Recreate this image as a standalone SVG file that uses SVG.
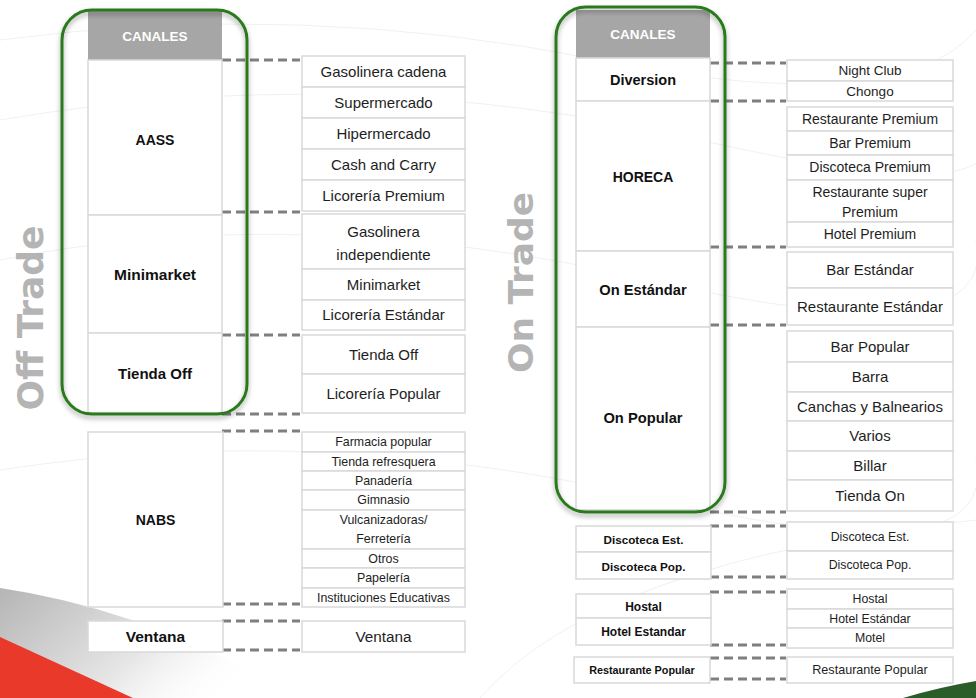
<svg xmlns="http://www.w3.org/2000/svg" width="976" height="698" viewBox="0 0 976 698">
<style>
.cell{fill:#fff;stroke:#d9d9d9;stroke-width:1.5}
.hdr{fill:#a6a6a6}
.t{font-family:"Liberation Sans",Arial,sans-serif;fill:#1e1e1e;text-anchor:middle}
.b{font-weight:bold;fill:#111}
.w{fill:#fff;font-weight:bold}
.s15{font-size:15px}
.s14{font-size:14px}
.s13{font-size:13.5px}
.s12{font-size:12.4px}
.dash{stroke:#7f7f7f;stroke-width:3;stroke-dasharray:9 5;fill:none}
.frame{fill:none;stroke:#2a7a1f;stroke-width:3;filter:url(#sh)}
.vt{font-family:"DejaVu Sans",sans-serif;font-weight:bold;fill:#b4b4b4;text-anchor:middle}
.bg{fill:none;stroke:#f1f1f1;stroke-width:1}
</style>
<defs>
<filter id="sh" x="-20%" y="-10%" width="140%" height="125%">
<feDropShadow dx="0" dy="3" stdDeviation="2.5" flood-color="#000" flood-opacity="0.35"/>
</filter>
<linearGradient id="gshade" x1="0" y1="0" x2="1" y2="0.4">
<stop offset="0" stop-color="#b5b5b5"/>
<stop offset="0.6" stop-color="#e6e6e6"/>
<stop offset="1" stop-color="#ffffff" stop-opacity="0"/>
</linearGradient>
</defs>
<rect width="976" height="698" fill="#fff"/>
<g id="background">
<path class="bg" d="M0,40 Q300,0 600,60 T976,30"/>
<path class="bg" d="M0,120 Q350,60 700,140 T976,110"/>
<path class="bg" d="M0,260 Q300,200 650,280 T976,240"/>
<path class="bg" d="M0,470 Q320,420 660,500 T976,460"/>
<path class="bg" d="M480,698 Q600,560 976,520"/>
<path d="M0,588 L0,640 L133,698 L300,698 Q150,610 0,588 Z" fill="url(#gshade)"/>
<path d="M0,637 L133,698 L0,698 Z" fill="#e8392a"/>
<path d="M903,698 Q940,687 976,681 L976,698 Z" fill="#2b5d2a"/>
</g>
<text class="vt" font-size="35" textLength="185" lengthAdjust="spacingAndGlyphs" transform="translate(43,318) rotate(-90)">Off Trade</text>
<text class="vt" font-size="34" textLength="181" lengthAdjust="spacingAndGlyphs" transform="translate(533,282.5) rotate(-90)">On Trade</text>

<g id="connectors">
<line class="dash" x1="222" y1="60" x2="300" y2="60"/>
<line class="dash" x1="222" y1="212" x2="300" y2="212"/>
<line class="dash" x1="222" y1="335" x2="300" y2="335"/>
<line class="dash" x1="222" y1="414" x2="300" y2="414"/>
<line class="dash" x1="222" y1="431" x2="300" y2="431"/>
<line class="dash" x1="222" y1="604" x2="300" y2="604"/>
<line class="dash" x1="222" y1="621" x2="300" y2="621"/>
<line class="dash" x1="222" y1="650" x2="300" y2="650"/>
<line class="dash" x1="710" y1="63" x2="786" y2="63"/>
<line class="dash" x1="710" y1="101" x2="786" y2="101"/>
<line class="dash" x1="710" y1="247" x2="786" y2="247"/>
<line class="dash" x1="710" y1="325" x2="786" y2="325"/>
<line class="dash" x1="710" y1="512" x2="786" y2="512"/>
<line class="dash" x1="710" y1="526" x2="786" y2="526"/>
<line class="dash" x1="710" y1="577" x2="786" y2="577"/>
<line class="dash" x1="710" y1="592" x2="786" y2="592"/>
<line class="dash" x1="710" y1="645" x2="786" y2="645"/>
<line class="dash" x1="710" y1="658" x2="786" y2="658"/>
<line class="dash" x1="710" y1="679" x2="786" y2="679"/>
</g>

<!-- OFF TRADE -->
<g id="off-canales">
<rect class="hdr" x="88" y="10" width="134" height="50"/>
<text class="t w" font-size="13.5" x="155" y="41">CANALES</text>
</g>
<g id="off-aass">
<rect class="cell" x="88" y="60" width="134" height="155"/>
<text class="t b s14" x="155" y="145">AASS</text>
</g>
<g id="off-minimarket">
<rect class="cell" x="88" y="215" width="134" height="118"/>
<text class="t b" font-size="15.5" x="155" y="280">Minimarket</text>
</g>
<g id="off-tienda">
<rect class="cell" x="88" y="333" width="134" height="80"/>
<text class="t b s15" x="155" y="378.5">Tienda Off</text>
</g>
<g id="off-aass-list">
<rect class="cell" x="302" y="56" width="163" height="31"/><text class="t s15" x="383.5" y="76.8">Gasolinera cadena</text>
<rect class="cell" x="302" y="87" width="163" height="31"/><text class="t s15" x="383.5" y="107.8">Supermercado</text>
<rect class="cell" x="302" y="118" width="163" height="31"/><text class="t s15" x="383.5" y="138.8">Hipermercado</text>
<rect class="cell" x="302" y="149" width="163" height="31"/><text class="t s15" x="383.5" y="169.8">Cash and Carry</text>
<rect class="cell" x="302" y="180" width="163" height="31"/><text class="t s15" x="383.5" y="200.8">Licorería Premium</text>
</g>
<g id="off-minimarket-list">
<rect class="cell" x="302" y="214" width="163" height="55"/><text class="t s15" x="383.5" y="237.3">Gasolinera</text><text class="t s15" x="383.5" y="259.6">independiente</text>
<rect class="cell" x="302" y="269" width="163" height="31"/><text class="t s15" x="383.5" y="289.8">Minimarket</text>
<rect class="cell" x="302" y="300" width="163" height="30"/><text class="t s15" x="383.5" y="320.3">Licorería Estándar</text>
</g>
<g id="off-tienda-list">
<rect class="cell" x="302" y="335" width="163" height="39"/><text class="t s15" x="383.5" y="359.8">Tienda Off</text>
<rect class="cell" x="302" y="374" width="163" height="39"/><text class="t s15" x="383.5" y="398.8">Licorería Popular</text>
</g>
<rect class="frame" x="62" y="10" width="185" height="404" rx="30"/>

<g id="off-nabs">
<rect class="cell" x="88" y="432" width="135" height="175"/>
<text class="t b s14" x="155.5" y="525">NABS</text>
</g>
<g id="off-nabs-list">
<rect class="cell" x="302" y="432" width="163" height="20"/><text class="t s12" x="383.5" y="446.4">Farmacia popular</text>
<rect class="cell" x="302" y="452" width="163" height="19"/><text class="t s12" x="383.5" y="465.9">Tienda refresquera</text>
<rect class="cell" x="302" y="471" width="163" height="19"/><text class="t s12" x="383.5" y="484.9">Panadería</text>
<rect class="cell" x="302" y="490" width="163" height="20"/><text class="t s12" x="383.5" y="504.4">Gimnasio</text>
<rect class="cell" x="302" y="510" width="163" height="39"/><text class="t s12" x="383.5" y="524.4">Vulcanizadoras/</text><text class="t s12" x="383.5" y="542.6">Ferretería</text>
<rect class="cell" x="302" y="549" width="163" height="19"/><text class="t s12" x="383.5" y="562.9">Otros</text>
<rect class="cell" x="302" y="568" width="163" height="20"/><text class="t s12" x="383.5" y="582.4">Papelería</text>
<rect class="cell" x="302" y="588" width="163" height="19"/><text class="t s12" x="383.5" y="601.9">Instituciones Educativas</text>
</g>
<g id="off-ventana">
<rect class="cell" x="88" y="621" width="135" height="31"/>
<text class="t b" font-size="15.5" x="155.5" y="642">Ventana</text>
</g>
<g id="off-ventana-list">
<rect class="cell" x="302" y="621" width="163" height="31"/>
<text class="t" font-size="15.3" x="383.5" y="642">Ventana</text>
</g>

<!-- ON TRADE -->
<g id="on-canales">
<rect class="hdr" x="576" y="10" width="134" height="48"/>
<text class="t w" font-size="13.5" x="643" y="39">CANALES</text>
</g>
<g id="on-diversion">
<rect class="cell" x="576" y="58" width="134" height="43"/>
<text class="t b" font-size="14.5" x="643" y="85">Diversion</text>
</g>
<g id="on-horeca">
<rect class="cell" x="576" y="101" width="134" height="150"/>
<text class="t b s14" x="643" y="182">HORECA</text>
</g>
<g id="on-estandar">
<rect class="cell" x="576" y="251" width="134" height="76"/>
<text class="t b" font-size="14.7" x="643" y="295">On Estándar</text>
</g>
<g id="on-popular">
<rect class="cell" x="576" y="327" width="134" height="183"/>
<text class="t b" font-size="14.7" x="643" y="423">On Popular</text>
</g>
<g id="on-diversion-list">
<rect class="cell" x="787" y="60" width="166" height="21"/><text class="t s13" x="870" y="75.2">Night Club</text>
<rect class="cell" x="787" y="81" width="166" height="20"/><text class="t s13" x="870" y="95.7">Chongo</text>
</g>
<g id="on-horeca-list">
<rect class="cell" x="787" y="107" width="166" height="24"/><text class="t s14" x="870" y="123.9">Restaurante Premium</text>
<rect class="cell" x="787" y="131" width="166" height="24"/><text class="t s14" x="870" y="147.9">Bar Premium</text>
<rect class="cell" x="787" y="155" width="166" height="25"/><text class="t s14" x="870" y="172.4">Discoteca Premium</text>
<rect class="cell" x="787" y="180" width="166" height="42"/><text class="t s14" x="870" y="196.6">Restaurante super</text><text class="t s14" x="870" y="216.6">Premium</text>
<rect class="cell" x="787" y="222" width="166" height="25"/><text class="t s14" x="870" y="239.4">Hotel Premium</text>
</g>
<g id="on-estandar-list">
<rect class="cell" x="787" y="252" width="166" height="36"/><text class="t s15" x="870" y="275.3">Bar Estándar</text>
<rect class="cell" x="787" y="288" width="166" height="37"/><text class="t s15" x="870" y="311.8">Restaurante Estándar</text>
</g>
<g id="on-popular-list">
<rect class="cell" x="787" y="331" width="166" height="31"/><text class="t s15" x="870" y="351.8">Bar Popular</text>
<rect class="cell" x="787" y="362" width="166" height="30"/><text class="t s15" x="870" y="382.3">Barra</text>
<rect class="cell" x="787" y="392" width="166" height="29"/><text class="t s15" x="870" y="411.8">Canchas y Balnearios</text>
<rect class="cell" x="787" y="421" width="166" height="30"/><text class="t s15" x="870" y="441.3">Varios</text>
<rect class="cell" x="787" y="451" width="166" height="29"/><text class="t s15" x="870" y="470.8">Billar</text>
<rect class="cell" x="787" y="480" width="166" height="31"/><text class="t s15" x="870" y="500.8">Tienda On</text>
</g>
<rect class="frame" x="556" y="7" width="169" height="505" rx="30"/>

<g id="on-discoteca">
<rect class="cell" x="576" y="526" width="135" height="26"/><text class="t b" font-size="11.7" x="643.5" y="544">Discoteca Est.</text>
<rect class="cell" x="576" y="552" width="135" height="27"/><text class="t b" font-size="11.7" x="643.5" y="570.7">Discoteca Pop.</text>
</g>
<g id="on-discoteca-list">
<rect class="cell" x="787" y="522" width="166" height="29"/><text class="t" font-size="12.3" x="870" y="541">Discoteca Est.</text>
<rect class="cell" x="787" y="551" width="166" height="28"/><text class="t" font-size="12.3" x="870" y="569.3">Discoteca Pop.</text>
</g>
<g id="on-hotel">
<rect class="cell" x="576" y="594" width="135" height="24"/><text class="t b" font-size="12" x="643.5" y="611">Hostal</text>
<rect class="cell" x="576" y="618" width="135" height="27"/><text class="t b" font-size="12" x="643.5" y="636">Hotel Estandar</text>
</g>
<g id="on-hotel-list">
<rect class="cell" x="787" y="589" width="166" height="20"/><text class="t" font-size="12.3" x="870" y="603.3">Hostal</text>
<rect class="cell" x="787" y="609" width="166" height="19"/><text class="t" font-size="12.3" x="870" y="622.8">Hotel Estándar</text>
<rect class="cell" x="787" y="628" width="166" height="20"/><text class="t" font-size="12.3" x="870" y="642.3">Motel</text>
</g>
<g id="on-restaurante">
<rect class="cell" x="574" y="657" width="136" height="26"/><text class="t b" font-size="10.8" x="642" y="673.8">Restaurante Popular</text>
</g>
<g id="on-restaurante-list">
<rect class="cell" x="787" y="657" width="166" height="26"/><text class="t" font-size="12.6" x="870" y="674.4">Restaurante Popular</text>
</g>
</svg>
